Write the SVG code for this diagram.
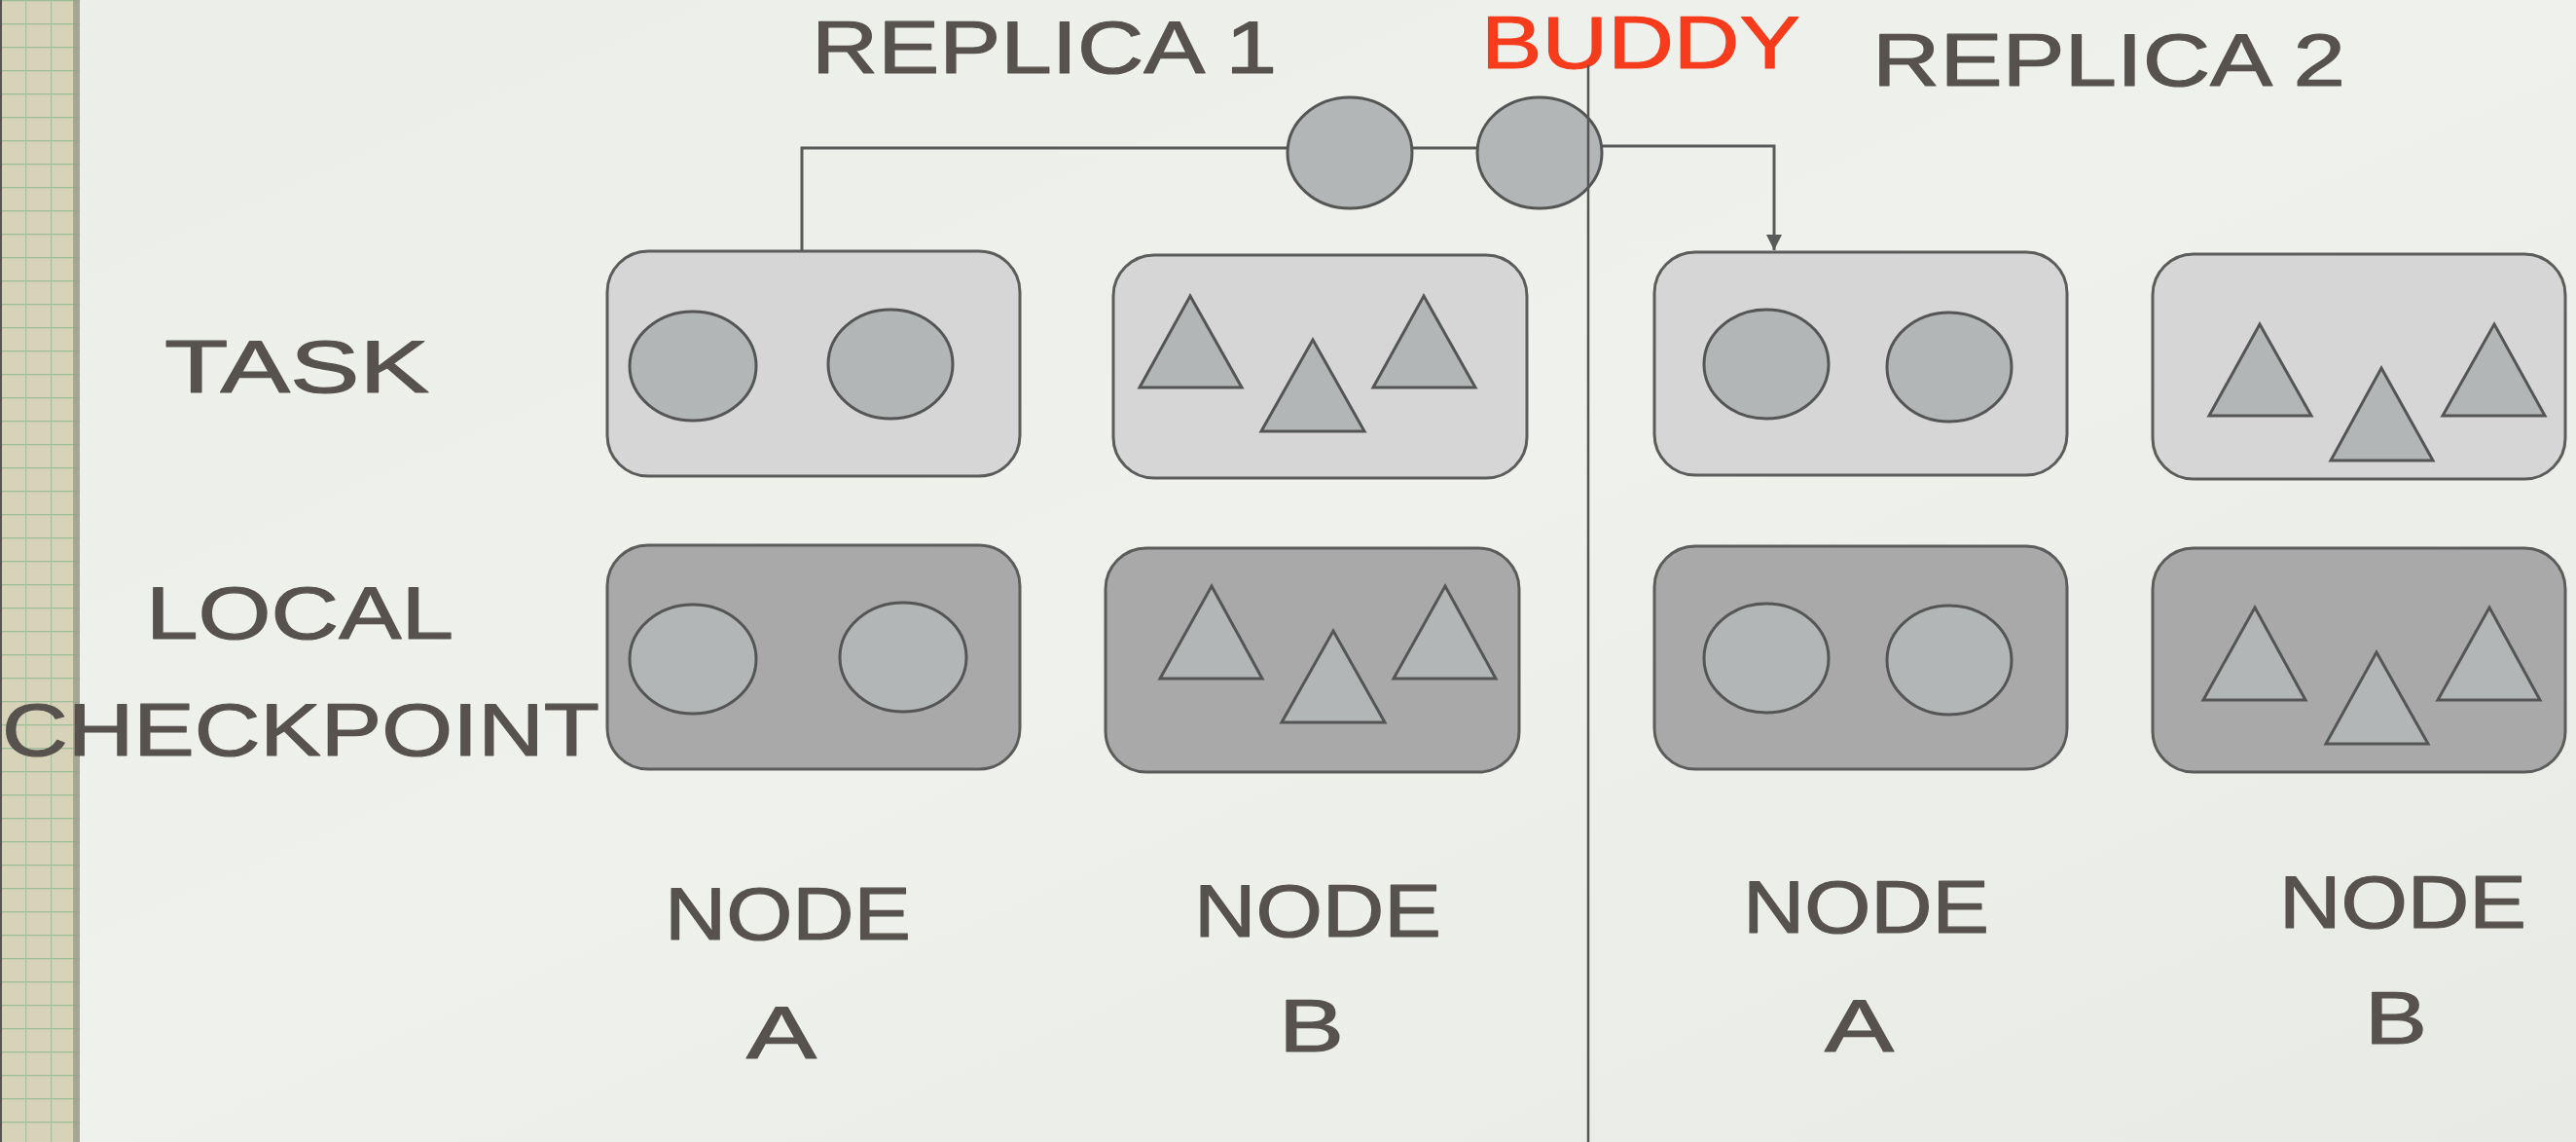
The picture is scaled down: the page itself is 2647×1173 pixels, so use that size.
<svg xmlns="http://www.w3.org/2000/svg" width="2647" height="1173" viewBox="0 0 2647 1173">
  <defs>
    <linearGradient id="bg" x1="0" y1="0" x2="1" y2="1">
      <stop offset="0" stop-color="#eceee9"/>
      <stop offset="0.5" stop-color="#eff1ed"/>
      <stop offset="1" stop-color="#e8eae6"/>
    </linearGradient>
    <pattern id="grid" x="0" y="0" width="26" height="24" patternUnits="userSpaceOnUse">
      <rect width="26" height="24" fill="#d6d3b9"/>
      <line x1="0" y1="0.5" x2="26" y2="0.5" stroke="#9fbb98" stroke-width="1.6"/>
      <line x1="0.5" y1="0" x2="0.5" y2="24" stroke="#a9c0a0" stroke-width="1.4"/>
    </pattern>
    <marker id="arrow" viewBox="0 0 16 16" refX="16" refY="8" markerWidth="16" markerHeight="16" markerUnits="userSpaceOnUse" orient="auto">
      <path d="M0,0 L16,8 L0,16 Z" fill="#5a5a5a"/>
    </marker>
  </defs>
  <style>
    .lbl { font-family: "Liberation Sans", "DejaVu Sans", sans-serif; font-size: 76px; fill: #57524d; stroke: #57524d; stroke-width: 1.2; stroke-linejoin: round; }
    .red { fill: #f63c1c; stroke: #f63c1c; }
    .task { fill: #d6d6d6; stroke: #5c5c5c; stroke-width: 3; }
    .ckpt { fill: #a9a9a9; stroke: #5c5c5c; stroke-width: 3; }
    .shape { fill: #b3b6b7; stroke: #555555; stroke-width: 3; }
    .conn { fill: none; stroke: #5a5a5a; stroke-width: 3; }
    .div { fill: none; stroke: #555555; stroke-width: 2.5; }
  </style>

  <!-- background -->
  <rect x="0" y="0" width="2647" height="1173" fill="url(#bg)"/>
  <rect x="0" y="0" width="82" height="1173" fill="url(#grid)"/>
  <rect x="75" y="0" width="7" height="1173" fill="#9c9c8a" opacity="0.8"/>
  <rect x="0" y="0" width="2" height="1173" fill="#555"/>

  <!-- labels -->
  <g id="labels">
    <text class="lbl" x="834" y="75" textLength="478" lengthAdjust="spacingAndGlyphs">REPLICA 1</text>
    <text class="lbl red" x="1522" y="70" textLength="328" lengthAdjust="spacingAndGlyphs">BUDDY</text>
    <text class="lbl" x="1924" y="88" textLength="486" lengthAdjust="spacingAndGlyphs">REPLICA 2</text>
    <text class="lbl" x="169" y="403" textLength="272" lengthAdjust="spacingAndGlyphs">TASK</text>
    <text class="lbl" x="150" y="656" textLength="316" lengthAdjust="spacingAndGlyphs">LOCAL</text>
    <text class="lbl" x="2" y="776" textLength="614" lengthAdjust="spacingAndGlyphs">CHECKPOINT</text>
    <text class="lbl" x="683" y="965" textLength="253" lengthAdjust="spacingAndGlyphs">NODE</text>
    <text class="lbl" x="767" y="1087" textLength="72" lengthAdjust="spacingAndGlyphs">A</text>
    <text class="lbl" x="1227" y="962" textLength="254" lengthAdjust="spacingAndGlyphs">NODE</text>
    <text class="lbl" x="1314" y="1080" textLength="67" lengthAdjust="spacingAndGlyphs">B</text>
    <text class="lbl" x="1791" y="958" textLength="253" lengthAdjust="spacingAndGlyphs">NODE</text>
    <text class="lbl" x="1875" y="1080" textLength="71" lengthAdjust="spacingAndGlyphs">A</text>
    <text class="lbl" x="2342" y="953" textLength="254" lengthAdjust="spacingAndGlyphs">NODE</text>
    <text class="lbl" x="2430" y="1072" textLength="64" lengthAdjust="spacingAndGlyphs">B</text>
  </g>

  <!-- connectors -->
  <g id="connectors">
    <polyline class="conn" points="824,258 824,152 1323,152"/>
    <line class="conn" x1="1451" y1="152" x2="1518" y2="152"/>
    <polyline class="conn" points="1646,150 1823,150 1823,257" marker-end="url(#arrow)"/>
  </g>

  <!-- buddy pair -->
  <g id="buddy-task-1">
    <ellipse class="shape" cx="1387" cy="157" rx="64" ry="57"/>
  </g>
  <g id="buddy-task-2">
    <ellipse class="shape" cx="1582" cy="157" rx="64" ry="57"/>
  </g>

  <!-- replica 1 -->
  <g id="r1-nodeA-task">
    <rect class="task" x="624" y="258" width="424" height="231" rx="42" ry="42"/>
    <ellipse class="shape" cx="712" cy="376" rx="65" ry="56"/>
    <ellipse class="shape" cx="915" cy="374" rx="64" ry="56"/>
  </g>
  <g id="r1-nodeB-task">
    <rect class="task" x="1144" y="262" width="425" height="229" rx="42" ry="42"/>
    <polygon class="shape" points="1223,304 1276,398 1171,398"/>
    <polygon class="shape" points="1349,349 1402,443 1296,443"/>
    <polygon class="shape" points="1463,304 1516,398 1411,398"/>
  </g>
  <g id="r1-nodeA-checkpoint">
    <rect class="ckpt" x="624" y="560" width="424" height="230" rx="42" ry="42"/>
    <ellipse class="shape" cx="712" cy="677" rx="65" ry="56"/>
    <ellipse class="shape" cx="928" cy="675" rx="65" ry="56"/>
  </g>
  <g id="r1-nodeB-checkpoint">
    <rect class="ckpt" x="1136" y="563" width="425" height="230" rx="42" ry="42"/>
    <polygon class="shape" points="1245,602 1297,697 1192,697"/>
    <polygon class="shape" points="1370,648 1423,742 1317,742"/>
    <polygon class="shape" points="1485,602 1537,697 1432,697"/>
  </g>

  <!-- replica 2 -->
  <g id="r2-nodeA-task">
    <rect class="task" x="1700" y="259" width="424" height="229" rx="42" ry="42"/>
    <ellipse class="shape" cx="1815" cy="374" rx="64" ry="56"/>
    <ellipse class="shape" cx="2003" cy="377" rx="64" ry="56"/>
  </g>
  <g id="r2-nodeB-task">
    <rect class="task" x="2212" y="261" width="424" height="231" rx="42" ry="42"/>
    <polygon class="shape" points="2322,333 2375,427 2270,427"/>
    <polygon class="shape" points="2447,378 2500,473 2395,473"/>
    <polygon class="shape" points="2563,333 2615,427 2510,427"/>
  </g>
  <g id="r2-nodeA-checkpoint">
    <rect class="ckpt" x="1700" y="561" width="424" height="229" rx="42" ry="42"/>
    <ellipse class="shape" cx="1815" cy="676" rx="64" ry="56"/>
    <ellipse class="shape" cx="2003" cy="678" rx="64" ry="56"/>
  </g>
  <g id="r2-nodeB-checkpoint">
    <rect class="ckpt" x="2212" y="563" width="424" height="230" rx="42" ry="42"/>
    <polygon class="shape" points="2317,624 2369,719 2264,719"/>
    <polygon class="shape" points="2442,670 2495,764 2390,764"/>
    <polygon class="shape" points="2558,624 2610,719 2505,719"/>
  </g>

  <!-- divider between replicas -->
  <g id="divider">
    <line class="div" x1="1632" y1="67" x2="1632" y2="1173"/>
  </g>
</svg>
